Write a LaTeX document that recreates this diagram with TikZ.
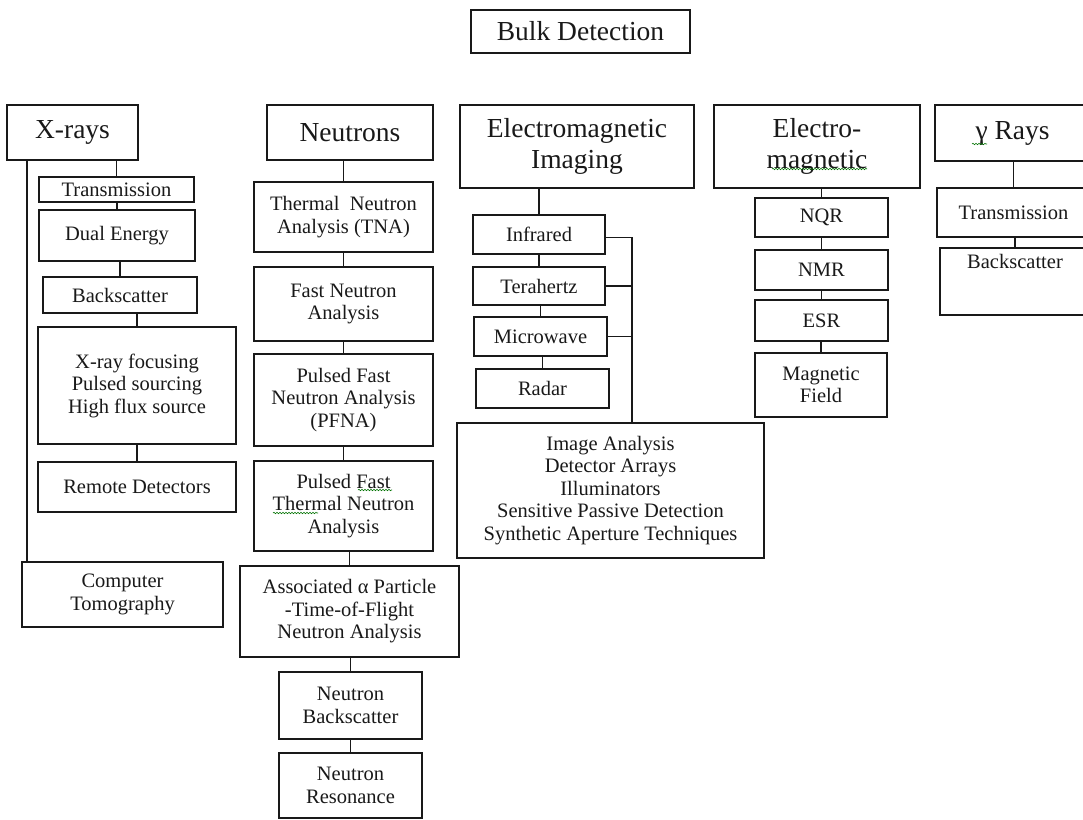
\documentclass[tikz,border=0pt]{standalone}
\usepackage{fontspec}
\setmainfont{Liberation Serif}
\usetikzlibrary{decorations.pathmorphing}
\tikzset{
  box/.style={draw=black!90, line width=1.5pt, inner sep=0pt, align=center, text=black!90,
    font=\fontsize{20.5}{22.5}\selectfont},
  head/.style={box, font=\fontsize{27.5}{31}\selectfont},
  link/.style={draw=black!90, line width=1.5pt},
  squig/.style={draw=green!45!black, line width=0.6pt, decorate,
    decoration={snake, amplitude=0.7pt, segment length=3pt}}
}
\newcommand{\bx}[7][box]{\node[#1, minimum width={(#5-#3)*1pt}, minimum height={(#6-#4)*1pt}] (#2) at ({(#3+#5)/2},{(#4+#6)/2}) {#7};}
\begin{document}
\begin{tikzpicture}[x=1pt,y=-1pt]
\useasboundingbox[fill=white] (0,0) rectangle (1083,819);
% title
\bx[head]{bulk}{471}{10}{690}{53}{Bulk Detection}
% X-rays
\bx[head]{xr}{7}{105}{138}{160}{X-rays}
\bx{xt}{39}{177}{194}{202}{Transmission}
\bx{xd}{39}{210}{195}{261}{Dual Energy}
\bx{xb}{43}{277}{197}{313}{Backscatter}
\bx{xf}{38}{327}{236}{444}{X-ray focusing\\Pulsed sourcing\\High flux source}
\bx{xrd}{38}{462}{236}{512}{Remote Detectors}
\bx{xct}{22}{562}{223}{627}{Computer\\Tomography}
% Neutrons
\bx[head]{nn}{267}{105}{433}{160}{Neutrons}
\bx{ntna}{254}{182}{433}{252}{Thermal\ \ Neutron\\Analysis (TNA)}
\bx{nfna}{254}{267}{433}{341}{Fast Neutron\\Analysis}
\bx{npfna}{254}{354}{433}{446}{Pulsed Fast\\Neutron Analysis\\(PFNA)}
\bx{npftna}{254}{461}{433}{551}{Pulsed Fast\\Thermal Neutron\\Analysis}
\bx{nassoc}{240}{566}{459}{657}{Associated α Particle\\-Time-of-Flight\\Neutron Analysis}
\bx{nbs}{279}{672}{422}{739}{Neutron\\Backscatter}
\bx{nres}{279}{753}{422}{818}{Neutron\\Resonance}
% Electromagnetic imaging
\bx[head]{ei}{460}{105}{694}{188}{Electromagnetic\\Imaging}
\bx{eir}{473}{215}{605}{254}{Infrared}
\bx{eth}{473}{267}{605}{305}{Terahertz}
\bx{emw}{474}{317}{607}{356}{Microwave}
\bx{erd}{476}{369}{609}{408}{Radar}
\bx{ebig}{457}{423}{764}{558}{Image Analysis\\Detector Arrays\\Illuminators\\Sensitive Passive Detection\\Synthetic Aperture Techniques}
% Electro-magnetic
\bx[head]{em}{714}{105}{920}{188}{Electro-\\magnetic}
\bx{mnqr}{755}{198}{888}{237}{NQR}
\bx{mnmr}{755}{250}{888}{290}{NMR}
\bx{mesr}{755}{300}{888}{341}{ESR}
\bx{mmf}{755}{353}{887}{417}{Magnetic\\Field}
% gamma rays
\bx[head]{gr}{935}{105}{1090}{161}{γ Rays}
\bx{gt}{937}{188}{1090}{237}{Transmission}
\bx{gb}{940}{248}{1090}{315}{Backscatter\\[18pt]}
% connectors X-rays
\coordinate (xl) at (27,0);
\draw[link] (xr.south -| xl) -- (xct.north -| xl);
\draw[link] (xt.north) -- (xt.north |- xr.south);
\draw[link] (xd.north) -- (xd.north |- xt.south);
\draw[link] (xb.north) -- (xb.north |- xd.south);
\draw[link] (xf.north) -- (xf.north |- xb.south);
\draw[link] (xrd.north) -- (xrd.north |- xf.south);
% connectors neutrons
\draw[link] (ntna.north) -- (ntna.north |- nn.south);
\draw[link] (nfna.north) -- (nfna.north |- ntna.south);
\draw[link] (npfna.north) -- (npfna.north |- nfna.south);
\draw[link] (npftna.north) -- (npftna.north |- npfna.south);
\draw[link] (nassoc.north) -- (nassoc.north |- npftna.south);
\draw[link] (nbs.north) -- (nbs.north |- nassoc.south);
\draw[link] (nres.north) -- (nres.north |- nbs.south);
% connectors EM imaging
\coordinate (bus) at (632,0);
\draw[link] (eir.north) -- (eir.north |- ei.south);
\draw[link] (eth.north) -- (eth.north |- eir.south);
\draw[link] (emw.north) -- (emw.north |- eth.south);
\draw[link] (erd.north) -- (erd.north |- emw.south);
\draw[link] ([yshift=-3pt]eir.east) -- ([yshift=-3pt]eir.east -| bus) -- (ebig.north -| bus);
\draw[link] (eth.east) -- (eth.east -| bus);
\draw[link] (emw.east) -- (emw.east -| bus);
% connectors electro-magnetic
\draw[link] (mnqr.north) -- (mnqr.north |- em.south);
\draw[link] (mnmr.north) -- (mnmr.north |- mnqr.south);
\draw[link] (mesr.north) -- (mesr.north |- mnmr.south);
\draw[link] (mmf.north) -- (mmf.north |- mesr.south);
% connectors gamma
\draw[link] (gt.north) -- (gt.north |- gr.south);
\draw[link] (gb.north) -- (gb.north |- gt.south);
% spell-check squiggles
\draw[squig] (772,169) -- (867,169);
\draw[squig] (972,144) -- (987,144);
\draw[squig] (358,490) -- (392,490);
\draw[squig] (273,513) -- (318,513);
\end{tikzpicture}
\end{document}
